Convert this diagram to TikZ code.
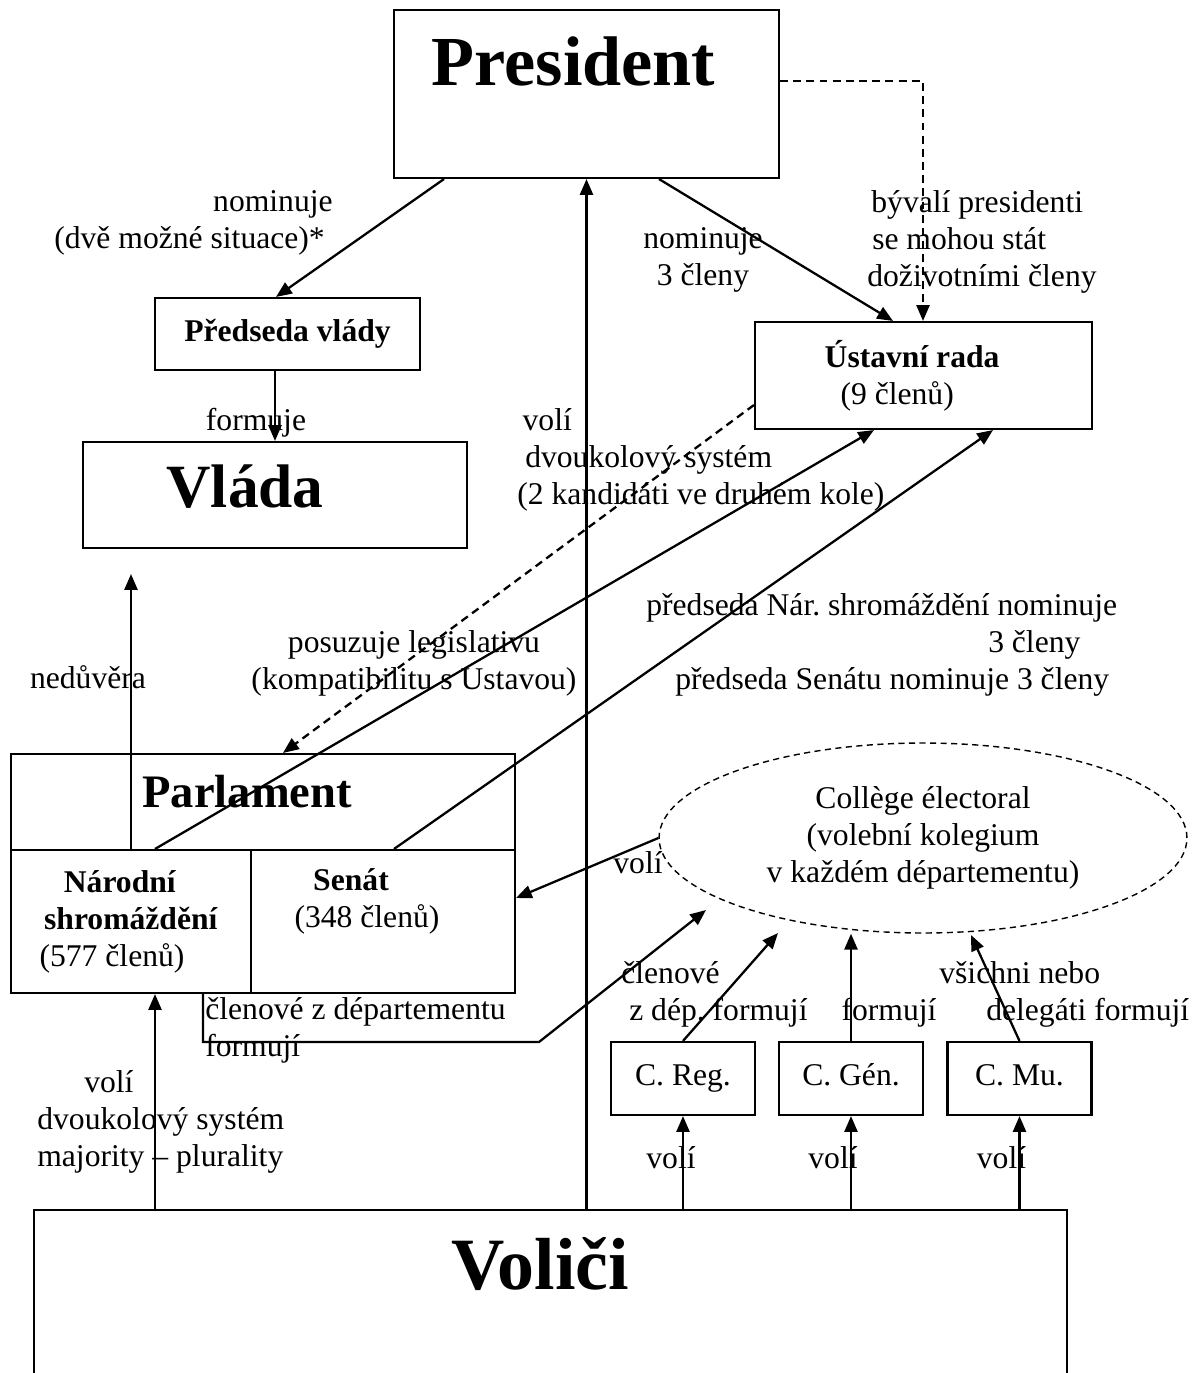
\documentclass[tikz,border=0pt]{standalone}
\usepackage{fontspec}
\setmainfont{Liberation Serif}
\usetikzlibrary{arrows.meta,shapes.geometric}
\frenchspacing

\tikzset{
    box/.style={draw, line width=1.2pt, inner sep=0pt, font=\fontsize{18}{21}\selectfont},
    lbl/.style={inner sep=0pt, font=\fontsize{18}{21}\selectfont},
    arr/.style={-{Triangle[length=9pt,width=7.4pt]}, line width=1.3pt},
    dasharr/.style={arr, dash pattern=on 4.5pt off 3pt},
    councilbox/.style={box, minimum width=2.88cm, minimum height=1.46cm, text height=12pt, text depth=4pt},
}

\begin{document}
\begin{tikzpicture}[x=0.02cm, y=-0.02cm]
    \useasboundingbox (0,0) rectangle (1200,1373);
    \clip (0,0) rectangle (1200,1373);

    % President
    \node[box, font=\fontsize{40}{44}\selectfont\bfseries, minimum width=7.7cm, minimum height=3.36cm,
          text height=0pt, text depth=10.2pt] (pres) at (586.5,94) {President\hspace*{14.8pt}};

    % Predseda vlady, Vlada
    \node[box, font=\fontsize{18}{21}\selectfont\bfseries, minimum width=5.3cm, minimum height=1.44cm] (pred) at (287.5,334) {Předseda vlády};
    \node[box, font=\fontsize{35}{40}\selectfont\bfseries, minimum width=7.68cm, minimum height=2.12cm,
          text height=13.7pt, text depth=0pt] (vlada) at (275,495) {Vláda\hspace*{34pt}};

    % Ustavni rada
    \node[box, align=center, minimum width=6.74cm, minimum height=2.14cm] (ustav) at (923.5,375.5)
        {\textbf{Ústavní rada}\hspace*{13pt}\\(9 členů)\hspace*{30pt}};

    % Parlament
    \node[box, font=\fontsize{26.5}{30}\selectfont\bfseries, minimum width=10.08cm, minimum height=1.92cm,
          text height=6.8pt, text depth=0pt] (parl) at (263,802) {Parlament\hspace*{18pt}};
    \node[box, align=center, minimum width=4.8cm, minimum height=2.86cm] (nar) at (131,921.5)
        {\textbf{Národní}\hspace*{12.5pt}\\\textbf{shromáždění}\hspace*{12.5pt}\\(577 členů)\hspace*{21.6pt}};
    \node[box, align=center, minimum width=5.28cm, minimum height=2.86cm,
          text height=6.3pt, text depth=0pt] (sen) at (383,921.5)
        {\textbf{Senát}\hspace*{36.4pt}\\(348 členů)\hspace*{18.2pt}};

    % College electoral
    \node[draw, ellipse, dash pattern=on 3.5pt off 2.5pt, line width=0.8pt, inner sep=0pt,
          minimum width=10.56cm, minimum height=3.8cm, align=center, font=\fontsize{18}{21}\selectfont]
        (coll) at (923,838) {Collège électoral\\(volební kolegium\\v každém départementu)};

    % councils
    \node[councilbox] (creg) at (683,1078.5) {C. Reg.};
    \node[councilbox] (cgen) at (851,1078.5) {C. Gén.};
    \node[councilbox] (cmu) at (1019.5,1078.5) {C. Mu.};

    % Volici
    \node[box, font=\fontsize{42}{48}\selectfont\bfseries, minimum width=20.66cm, minimum height=4.2cm,
          text height=0pt, text depth=28.5pt] (volici) at (550.5,1315) {Voliči\hspace*{12pt}};

    % President -> Predseda -> Vlada
    \draw[arr] (pres.south -| 444,0) -- (pred.north -| 276,0);
    \node[lbl, align=right, anchor=east] (nomPred) at (333,223) {nominuje\\(dvě možné situace)*\hspace*{4.5pt}};
    \draw[arr] (pred.south -| vlada.north) -- (vlada.north);
    \node[lbl, anchor=base] (formuje) at (256,430) {formuje};

    % Volici -> President
    \draw[arr] (volici.north -| pres.south) -- (pres.south);
    \node[lbl, align=left, anchor=west] (voliPres) at (517,460)
        {\hspace*{3pt}volí\\\hspace*{4.5pt}dvoukolový systém\\(2 kandidáti ve druhém kole)};

    % President -> Ustavni rada
    \draw[arr] (pres.south -| 659,0) -- (ustav.north -| 893,0);
    \node[lbl, align=center] (nomUst) at (703,260) {nominuje\\3 členy};
    \draw[dasharr] (pres.east |- 0,81) -| (ustav.north -| 923,0);
    \node[lbl, align=left, anchor=west] (byvali) at (867,242)
        {\hspace*{2.3pt}bývalí presidenti\\\hspace*{2.8pt}se mohou stát\\doživotními členy};

    % Ustavni rada -> Parlament
    \draw[dasharr] (ustav.west |- 0,405) -- (parl.north -| 283,0);
    \node[lbl, align=center] (posuz) at (414,663) {posuzuje legislativu\\(kompatibilitu s Ustavou)};

    % Narodni shromazdeni, Senat -> Ustavni rada
    \draw[arr] (nar.north -| 155,0) -- (ustav.south -| 874,0);
    \draw[arr] (sen.north -| 394,0) -- (ustav.south -| 993,0);
    \node[lbl, align=left, anchor=west] (predsNom) at (646,645)
        {předseda Nár. shromáždění nominuje\\\hspace*{194.6pt}3 členy\\\hspace*{16.5pt}předseda Senátu nominuje 3 členy};

    % neduvera
    \coordinate (nedTip) at (131,574);
    \draw[arr] (nar.north) -- (nedTip);
    \node[lbl, anchor=base] (neduv) at (88,688) {nedůvěra};

    % College -> Senat
    \draw[arr] (coll.west) -- (sen.east |- 0,898);
    \node[lbl, anchor=base] (voliSen) at (638,873) {volí};

    % departement members
    \coordinate (depTip) at (706,910);
    \draw[arr] (nar.south -| 203,0) |- (539,1042) -- (depTip);
    \node[lbl, align=left, anchor=west] (clenDep) at (205,1030) {členové z départementu\\formují};

    % councils -> College
    \coordinate (regTip) at (778,933);
    \coordinate (muTip) at (971,935);
    \draw[arr] (creg.north) -- (regTip);
    \draw[arr] (cgen.north) -- (cgen.north |- coll.south);
    \draw[arr] (cmu.north) -- (muTip);
    \node[lbl, align=left, anchor=west] (clenReg) at (621,994) {členové\\\hspace*{4.5pt}z dép. formují};
    \node[lbl, anchor=base] (formGen) at (889,1020) {formují};
    \node[lbl, align=left, anchor=west] (vsichni) at (939,994) {všichni nebo\\\hspace*{26.7pt}delegáti formují};

    % Volici -> councils
    \foreach \c/\x in {creg/671, cgen/833, cmu/1001.5} {
        \draw[arr] (volici.north -| \c.south) -- (\c.south);
        \node[lbl, anchor=base] (voli-\c) at (\x,1168) {volí};
    }

    % Volici -> Narodni shromazdeni
    \draw[arr] (volici.north -| 155,0) -- (nar.south -| 155,0);
    \node[lbl, align=left, anchor=west] (voliNar) at (37,1122)
        {\hspace*{26.7pt}volí\\dvoukolový systém\\majority – plurality};
\end{tikzpicture}
\end{document}
